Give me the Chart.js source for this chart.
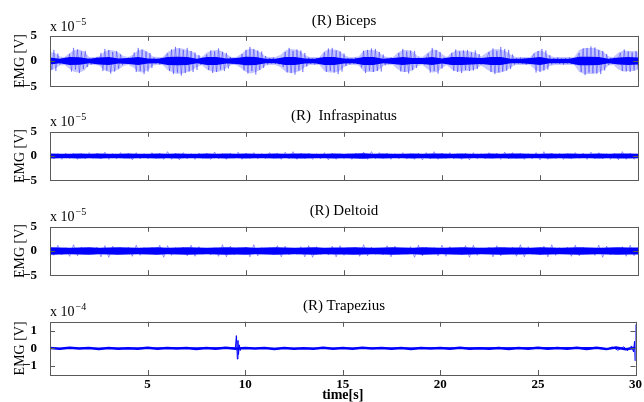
<!DOCTYPE html>
<html>
<head>
<meta charset="utf-8">
<script src="https://cdn.jsdelivr.net/npm/chart.js@4.4.1/dist/chart.umd.min.js"></script>
<style>
  html, body { margin: 0; padding: 0; background: #fff; overflow: hidden; }
  #wrap { position: relative; width: 644px; height: 402px; font-family: "Liberation Serif", "Times New Roman", serif; color: #000; }
  #wrap canvas { position: absolute; left: 0; }
  .title { position: absolute; left: 144px; width: 400px; text-align: center; font-size: 15px; line-height: 16px; white-space: pre; }
  .expo { position: absolute; left: 50px; font-size: 14px; line-height: 14px; }
  .expo sup { font-size: 10px; position: relative; top: -6px; vertical-align: baseline; margin-left: 1px; }
</style>
</head>
<body>
<div id="wrap">
  <canvas id="c1" width="644" height="76" style="top:23px"></canvas>
  <canvas id="c2" width="644" height="74" style="top:119px"></canvas>
  <canvas id="c3" width="644" height="74" style="top:214px"></canvas>
  <canvas id="c4" width="644" height="93" style="top:309px"></canvas>

  <div class="title" style="top:12px">(R) Biceps</div>
  <div class="title" style="top:107px">(R)  Infraspinatus</div>
  <div class="title" style="top:202px">(R) Deltoid</div>
  <div class="title" style="top:297px">(R) Trapezius</div>

  <div class="expo" style="top:20px">x 10<sup>−5</sup></div>
  <div class="expo" style="top:115px">x 10<sup>−5</sup></div>
  <div class="expo" style="top:210px">x 10<sup>−5</sup></div>
  <div class="expo" style="top:305px">x 10<sup>−4</sup></div>
</div>

<script>
// time axis
const xTickValues = [5, 10, 15, 20, 25, 30];
const yTicksSmall = [-5, 0, 5];
const yTicksTrap = [-1, 0, 1];

// (R) Biceps, x 1e-5 V, one sample every 0.1 s
const bicepsSpikes = [
  0.3, -1.8, 2.2, -2.0, 1.5, -0.7, 0.6, -0.5, 0.7, -0.6,
  1.4, -2.1, 2.6, -1.7, 2.3, -2.4, 1.9, -1.6, 2.0, -1.2,
  0.6, -0.7, 0.5, -0.6, 0.8, -0.5, 1.6, -2.0, 2.4, -1.9,
  2.2, -2.5, 1.8, -2.1, 2.0, -1.5, 1.3, -0.8, 0.6, -0.5,
  0.7, -0.6, 0.5, 1.7, -2.2, 2.6, -2.0, 2.3, -2.6, 1.9,
  -2.1, 1.6, -1.4, 0.7, -0.6, 0.5, -0.7, 0.6, -0.5, 0.7,
  1.5, -2.0, 2.3, -2.6, 2.8, -2.3, 2.5, -2.9, 2.2, -2.4,
  2.6, -2.1, 2.0, -2.2, 1.7, -1.8, 1.2, -0.8, 0.7, -0.6,
  1.3, -1.8, 2.1, -2.4, 1.9, -2.2, 2.5, -1.7, 1.8, -2.0,
  1.6, -1.5, 0.8, -0.6, 0.5, -0.7, 0.6, -0.5, 1.4, -1.9,
  2.2, -2.5, 2.8, -2.0, 2.4, -2.7, 2.1, -1.8, 1.9, -1.4,
  1.0, -0.7, 0.6, -0.5, 0.7, -0.6, 0.5, -0.7, 0.6, -1.2,
  1.8, -2.3, 2.6, -2.4, 2.0, -2.7, 2.3, -1.9, 2.1, -2.2,
  1.6, -1.1, 0.7, -0.6, 0.5, -0.7, 0.6, -0.5, 0.7, -0.6,
  1.7, -2.2, 2.5, -2.0, 2.6, -2.3, 2.1, -2.6, 1.9, -2.1,
  1.5, -1.0, 0.6, -0.7, 0.5, -0.6, 0.7, -0.5, 0.6, -1.3,
  2.0, -2.4, 2.2, -1.9, 2.5, -2.2, 2.4, -2.0, 1.8, -2.1,
  1.3, -0.8, 0.6, -0.5, 0.7, -0.6, 0.5, -0.7, 1.6, -2.1,
  2.4, -2.2, 1.9, -2.5, 2.1, -1.8, 2.0, -1.4, 0.7, -0.6,
  0.5, -0.7, 0.6, 1.5, -2.3, 2.6, -2.0, 2.2, -2.5, 1.8,
  -1.5, 0.7, -0.6, 0.5, -0.7, 1.6, -2.0, 2.3, -2.2, 1.9,
  -2.4, 2.1, -1.8, 2.2, -2.0, 1.7, -1.9, 2.1, -1.6, 1.4,
  -0.8, 0.6, -0.5, 0.7, 1.8, -2.2, 2.5, -2.6, 2.0, -2.3,
  2.8, -2.1, 2.4, -1.9, 2.2, -1.6, 1.3, -0.7, 0.6, -0.5,
  0.7, -0.6, 0.5, -0.7, 0.6, -0.5, 0.7, 1.5, -2.3, 2.0,
  -2.2, 2.4, -1.9, 2.1, -1.7, 1.2, -0.7, 0.6, -0.5, 0.7,
  -0.6, 0.5, -0.7, 0.6, -0.5, 0.7, -0.6, 0.5, -0.7, 0.6,
  1.6, -2.2, 2.5, -2.8, 2.6, -2.3, 2.9, -2.4, 2.7, -2.5,
  2.2, -2.6, 2.0, -1.9, 1.4, -0.8, 0.6, -0.5, 0.7, -0.6,
  0.5, 1.6, -2.0, 2.3, -2.1, 1.9, -2.2, 1.7, -1.9, 2.0,
  -1.6
];
// outer (faint) envelope of the biceps bursts, every 0.25 s
const bicepsHaze = [
  1.8, 1.6, 0.9, 0.8,  1.6, 2.2, 2.3, 1.9,  0.8, 0.8, 0.9, 1.8,
  2.2, 2.1, 1.7, 1.0,  0.8, 1.3, 2.2, 2.3,  1.8, 0.9, 0.8, 0.8,
  1.8, 2.3, 2.6, 2.5,  2.2, 1.9, 1.2, 0.8,  1.7, 2.1, 2.2, 2.0,
  1.4, 0.8, 0.8, 1.4,  2.2, 2.5, 2.2, 1.7,  0.9, 0.8, 0.8, 1.2,
  2.1, 2.4, 2.3, 2.0,  1.2, 0.8, 0.8, 0.8,  2.0, 2.3, 2.3, 2.1,
  1.2, 0.8, 0.8, 0.9,  2.1, 2.2, 2.2, 1.9,  1.0, 0.8, 0.8, 1.7,
  2.2, 2.2, 1.9, 1.0,  0.8, 1.6, 2.3, 2.2,  1.4, 0.8, 1.7, 2.1,
  2.1, 2.0, 1.9, 1.6,  0.9, 1.6, 2.2, 2.4,  2.3, 2.0, 1.3, 0.8,
  0.8, 0.8, 0.8, 1.8,  2.1, 1.8, 1.0, 0.8,  0.8, 0.8, 0.8, 0.8,
  2.2, 2.6, 2.6, 2.6,  2.3, 1.8, 0.9, 0.8,  1.7, 2.1, 2.0, 2.0,
  1.8
];
// dark core of the biceps trace, every 0.5 s
const bicepsCore = [
  0.7, 0.45, 0.8, 0.75, 0.45, 0.7, 0.8, 0.5, 0.6, 0.8,
  0.5, 0.45, 0.8, 0.85, 0.8, 0.45, 0.8, 0.8, 0.5, 0.6,
  0.85, 0.8, 0.45, 0.45, 0.8, 0.8, 0.5, 0.45, 0.8, 0.8,
  0.5, 0.45, 0.8, 0.8, 0.45, 0.6, 0.8, 0.6, 0.6, 0.8,
  0.5, 0.8, 0.8, 0.7, 0.6, 0.8, 0.8, 0.45, 0.45, 0.6,
  0.8, 0.45, 0.45, 0.45, 0.85, 0.85, 0.8, 0.45, 0.7, 0.8,
  0.7
];

// (R) Infraspinatus, x 1e-5 V, every 0.2 s
const infraSpikes = [
  0.7, -0.6, 0.5, -0.7, 0.6,  -0.5, 0.6, -0.7, 0.5, -0.6,
  0.7, -0.5, 0.6, -0.6, 0.8,  -0.7, 0.5, -0.6, 0.7, -0.5,
  0.6, -0.8, 0.7, -0.6, 0.5,  -0.6, 0.7, -0.5, 0.6, -0.7,
  0.9, -0.7, 0.6, -0.8, 0.7,  -0.6, 0.5, -0.7, 0.6, -0.5,
  0.6, -0.7, 0.8, -0.6, 0.5,  -0.7, 0.6, -0.5, 0.8, -0.7,
  0.6, -0.5, 0.7, -0.6, 0.5,  -0.6, 0.7, -0.5, 0.6, -0.7,
  0.8, -0.6, 0.9, -0.7, 0.6,  -0.5, 0.6, -0.7, 0.5, -0.6,
  0.7, -0.8, 0.6, -0.7, 0.5,  -0.6, 0.5, -0.7, 0.6, -0.5,
  0.8, -0.7, 0.9, -0.6, 0.7,  -0.5, 0.6, -0.7, 0.5, -0.6,
  0.7, -0.6, 0.5, -0.7, 0.6,  -0.8, 0.7, -0.6, 0.9, -0.7,
  0.6, -0.5, 0.7, -0.6, 0.5,  -0.7, 0.6, -0.8, 0.7, -0.6,
  0.5, -0.6, 0.7, -0.5, 0.6,  -0.7, 0.8, -0.6, 0.7, -0.5,
  0.6, -0.7, 0.5, -0.6, 0.7,  -0.8, 0.9, -0.7, 0.6, -0.5,
  0.6, -0.7, 0.5, -0.6, 0.7,  -0.5, 0.6, -0.7, 0.8, -0.6,
  0.7, -0.6, 0.5, -0.7, 0.6,  -0.8, 0.9, -0.7, 0.6, -0.7,
  0.5
];
// every 0.5 s
const infraCore = [
  0.5, 0.45, 0.45, 0.5, 0.45, 0.5, 0.45, 0.45, 0.5, 0.45,
  0.45, 0.5, 0.45, 0.5, 0.45, 0.45, 0.5, 0.45, 0.5, 0.45,
  0.5, 0.45, 0.45, 0.5, 0.45, 0.5, 0.5, 0.45, 0.45, 0.5,
  0.45, 0.5, 0.55, 0.45, 0.5, 0.45, 0.45, 0.5, 0.45, 0.5,
  0.5, 0.45, 0.5, 0.45, 0.45, 0.5, 0.45, 0.5, 0.5, 0.45,
  0.45, 0.5, 0.45, 0.5, 0.45, 0.45, 0.5, 0.45, 0.5, 0.5,
  0.45
];

// (R) Deltoid, x 1e-5 V, every 0.2 s
const deltoidSpikes = [
  1.0, -0.9, 1.2, -0.8, 0.7,  -1.1, 1.3, -1.0, 0.8, -0.7,
  0.6, -0.7, 0.8, -1.2, 1.1,  -1.3, 1.0, -0.8, 0.7, -0.6,
  0.8, -1.1, 1.2, -0.9, 0.7,  -0.6, 0.7, -0.8, 1.2, -1.3,
  1.1, -0.9, 0.7, -0.6, 0.8,  -1.0, 1.2, -1.1, 0.9, -0.7,
  0.6, -0.8, 0.7, -1.1, 1.3,  -1.2, 1.0, -0.8, 0.7, -0.6,
  0.8, -1.2, 1.3, -1.0, 0.7,  -0.6, 0.7, -0.8, 1.1, -1.2,
  1.0, -0.8, 0.6, -0.7, 0.9,  -1.2, 1.1, -1.3, 0.9, -0.7,
  0.6, -0.8, 1.0, -1.2, 1.1,  -0.9, 0.7, -0.6, 0.8, -1.1,
  1.3, -1.0, 0.8, -0.7, 0.6,  -0.8, 1.1, -1.2, 1.0, -0.7,
  0.6, -0.7, 0.9, -1.3, 1.2,  -1.0, 0.8, -0.6, 0.7, -1.0,
  1.2, -1.1, 0.9, -0.7, 0.6,  -0.8, 1.1, -1.3, 1.2, -0.9,
  0.7, -0.6, 0.8, -1.2, 1.1,  -1.0, 0.7, -0.6, 0.8, -1.1,
  1.3, -1.2, 0.9, -0.7, 0.6,  -0.8, 1.0, -1.2, 1.3, -0.9,
  0.7, -0.6, 0.8, -1.1, 1.2,  -1.0, 0.8, -0.7, 0.6, -0.9,
  1.2, -1.3, 1.0, -0.8, 0.7,  -0.6, 0.9, -1.1, 1.2, -1.0,
  0.7
];
// every 0.5 s
const deltoidCore = [
  0.75, 0.7, 0.65, 0.7, 0.75, 0.65, 0.7, 0.75, 0.7, 0.65,
  0.7, 0.75, 0.65, 0.7, 0.75, 0.7, 0.65, 0.7, 0.75, 0.7,
  0.75, 0.65, 0.7, 0.75, 0.7, 0.65, 0.7, 0.75, 0.65, 0.7,
  0.7, 0.75, 0.7, 0.65, 0.7, 0.75, 0.7, 0.65, 0.75, 0.7,
  0.65, 0.7, 0.75, 0.7, 0.65, 0.7, 0.75, 0.7, 0.7, 0.65,
  0.75, 0.7, 0.65, 0.7, 0.75, 0.7, 0.65, 0.7, 0.75, 0.7,
  0.7
];

// (R) Trapezius, x 1e-4 V, every 0.5 s
const trapCore = [
  0.02, -0.02, 0.03, -0.01, 0.02, -0.03, 0.02, -0.02, 0.01, -0.02,
  0.03, -0.02, 0.02, -0.01, 0.02, -0.03, 0.02, -0.02, 0.03, -0.02,
  0.02, -0.01, 0.02, -0.03, 0.02, -0.02, 0.01, -0.02, 0.03, -0.02,
  0.02, -0.02, 0.03, -0.01, 0.02, -0.02, 0.02, -0.03, 0.02, -0.01,
  0.02, -0.02, 0.03, -0.02, 0.01, -0.02, 0.02, -0.03, 0.02, -0.02,
  0.03, -0.02, 0.02, -0.02, 0.03, -0.03, 0.04, -0.04, 0.05, -0.05,
  0.04
];
// isolated events: the spike near 9.6 s and the burst at the very end
const trapEventTimes = [0, 9.5, 9.55, 9.6, 9.63, 9.66, 9.7, 9.75, 9.8, 9.9, 28.2, 28.5, 28.8, 29.1, 29.4, 29.6, 29.8, 29.9, 29.95, 29.98, 30];
const trapEventValues = [0, 0.04, 0.72, -0.6, 0.45, -0.35, 0.2, -0.12, 0.06, 0, 0.05, -0.07, 0.08, -0.1, 0.09, -0.12, 0.14, -0.2, 0.4, -0.7, 1.35];

Chart.defaults.font.family = '"Liberation Serif", "Times New Roman", serif';
Chart.defaults.color = '#000';
Chart.defaults.animation = false;

function sampled(values, step) {
  return values.map((v, i) => ({ x: i * step, y: v }));
}

function minusLabel(value) {
  return value < 0 ? '\u2212' + Math.abs(value) : String(value);
}

// MATLAB-style box with inward ticks
const matlabAxes = {
  id: 'matlabAxes',
  afterDatasetsDraw(chart) {
    const { ctx, chartArea: a, scales: { x, y } } = chart;
    ctx.save();
    ctx.strokeStyle = '#5a5a5a';
    ctx.lineWidth = 1;
    ctx.beginPath();
    xTickValues.forEach((v) => {
      const px = Math.round(x.getPixelForValue(v)) + 0.5;
      ctx.moveTo(px, a.top);
      ctx.lineTo(px, a.top + 5);
      ctx.moveTo(px, a.bottom);
      ctx.lineTo(px, a.bottom - 5);
    });
    y.ticks.forEach((t) => {
      const py = Math.round(y.getPixelForValue(t.value)) + 0.5;
      ctx.moveTo(a.left, py);
      ctx.lineTo(a.left + 5, py);
      ctx.moveTo(a.right, py);
      ctx.lineTo(a.right - 5, py);
    });
    ctx.stroke();
    ctx.strokeRect(Math.round(a.left) + 0.5, Math.round(a.top) + 0.5, Math.round(a.right - a.left), Math.round(a.bottom - a.top));
    ctx.restore();
  }
};

function makePanel({ canvasId, datasets, yRange, yTicks, showTime }) {
  const yScale = {
    min: -yRange,
    max: yRange,
    afterBuildTicks(scale) {
      scale.ticks = yTicks.map((v) => ({ value: v }));
    },
    afterFit(scale) {
      scale.width = 50;
    },
    grid: { display: false },
    border: { display: false },
    ticks: {
      padding: 5,
      font: { size: 13, weight: 'bold' },
      callback: minusLabel
    },
    title: {
      display: true,
      text: 'EMG [V]',
      font: { size: 14 },
      padding: { top: 12, bottom: 0 }
    }
  };

  const xScale = {
    type: 'linear',
    min: 0,
    max: 30,
    display: showTime,
    afterBuildTicks(scale) {
      scale.ticks = xTickValues.map((v) => ({ value: v }));
    },
    afterFit(scale) {
      scale.height = showTime ? 27 : 0;
    },
    grid: { display: false, drawTicks: false },
    border: { display: false },
    ticks: {
      padding: 2,
      maxRotation: 0,
      font: { size: 13, weight: 'bold' }
    },
    title: {
      display: true,
      text: 'time[s]',
      font: { size: 14, weight: 'bold', lineHeight: 1 },
      padding: 0
    }
  };

  return new Chart(document.getElementById(canvasId), {
    type: 'line',
    data: { datasets },
    options: {
      responsive: false,
      parsing: false,
      normalized: true,
      layout: { padding: { top: 10, bottom: showTime ? 0 : 10, left: 0, right: 6 } },
      plugins: { legend: { display: false }, tooltip: { enabled: false } },
      elements: { point: { radius: 0 }, line: { tension: 0 } },
      scales: { x: xScale, y: yScale }
    },
    plugins: [matlabAxes]
  });
}

// a band from +envelope to -envelope, as two datasets filled between each other
function band(envelope, step, color, order) {
  return [
    { data: envelope.map((v, i) => ({ x: i * step, y: v })), borderWidth: 0, backgroundColor: color, fill: '+1', order },
    { data: envelope.map((v, i) => ({ x: i * step, y: -v })), borderWidth: 0, fill: false, order }
  ];
}

function spikeSet(data, alpha) {
  return { data, borderColor: `rgba(0, 0, 255, ${alpha})`, borderWidth: 0.7, order: 1 };
}

makePanel({
  canvasId: 'c1',
  yRange: 5,
  yTicks: yTicksSmall,
  showTime: false,
  datasets: [
    ...band(bicepsHaze, 0.25, 'rgba(0, 0, 255, 0.22)', 2),
    ...band(bicepsCore, 0.5, '#0000ff', 0),
    spikeSet(sampled(bicepsSpikes, 0.1), 0.5)
  ]
});

makePanel({
  canvasId: 'c2',
  yRange: 5,
  yTicks: yTicksSmall,
  showTime: false,
  datasets: [
    ...band(infraCore, 0.5, '#0000ff', 0),
    spikeSet(sampled(infraSpikes, 0.2), 0.55)
  ]
});

makePanel({
  canvasId: 'c3',
  yRange: 5,
  yTicks: yTicksSmall,
  showTime: false,
  datasets: [
    ...band(deltoidCore, 0.5, '#0000ff', 0),
    spikeSet(sampled(deltoidSpikes, 0.2), 0.55)
  ]
});

makePanel({
  canvasId: 'c4',
  yRange: 1.5,
  yTicks: yTicksTrap,
  showTime: true,
  datasets: [
    { data: sampled(trapCore, 0.5), borderColor: '#0000ff', borderWidth: 2.5, order: 0 },
    { data: trapEventTimes.map((t, i) => ({ x: t, y: trapEventValues[i] })), borderColor: '#0000ff', borderWidth: 1, order: 1 }
  ]
});
</script>
</body>
</html>
